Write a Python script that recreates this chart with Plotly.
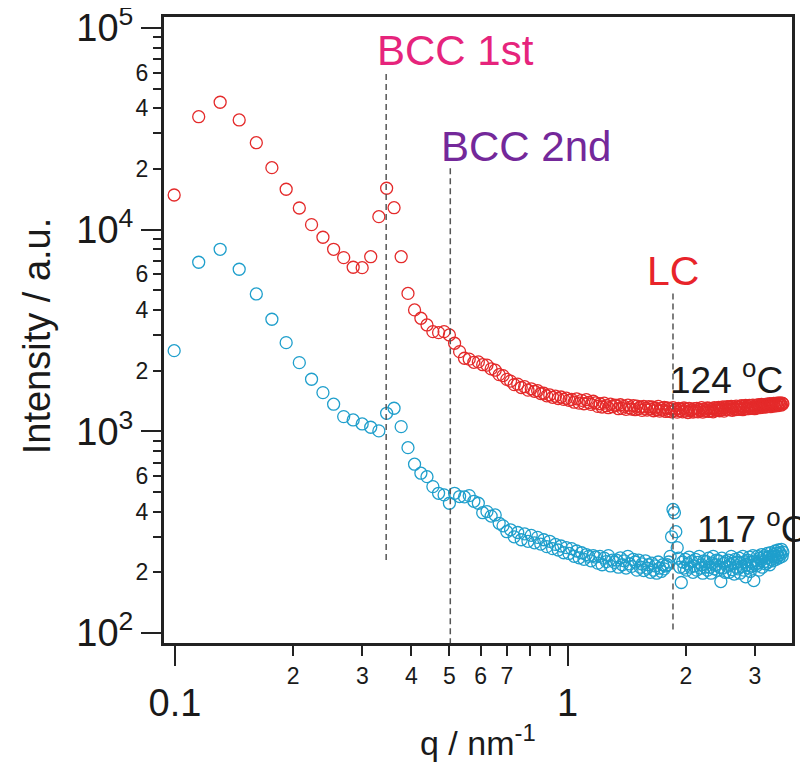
import math
import plotly.graph_objects as go

# ---------------- data ----------------
q = [
    0.0995, 0.1149, 0.1303, 0.1457, 0.1611, 0.1765, 0.1919, 0.2073, 0.2227, 0.2381,
    0.2535, 0.2689, 0.2843, 0.2997, 0.3151, 0.3305, 0.3459, 0.3613, 0.3767, 0.3921,
    0.4075, 0.4229, 0.4383, 0.4537, 0.4691, 0.4845, 0.4999, 0.5153, 0.5307, 0.5461,
    0.5615, 0.5769, 0.5923, 0.6077, 0.6231, 0.6385, 0.6539, 0.6693, 0.6847, 0.7001,
    0.7155, 0.7309, 0.7463, 0.7617, 0.7771, 0.7925, 0.8079, 0.8233, 0.8387, 0.8541,
    0.8695, 0.8849, 0.9003, 0.9157, 0.9311, 0.9465, 0.9619, 0.9773, 0.9927, 1.0081,
    1.0235, 1.0389, 1.0543, 1.0697, 1.0851, 1.1005, 1.1159, 1.1313, 1.1467, 1.1621,
    1.1775, 1.1929, 1.2083, 1.2237, 1.2391, 1.2545, 1.2699, 1.2853, 1.3007, 1.3161,
    1.3315, 1.3469, 1.3623, 1.3777, 1.3931, 1.4085, 1.4239, 1.4393, 1.4547, 1.4701,
    1.4855, 1.5009, 1.5163, 1.5317, 1.5471, 1.5625, 1.5779, 1.5933, 1.6087, 1.6241,
    1.6395, 1.6549, 1.6703, 1.6857, 1.7011, 1.7165, 1.7319, 1.7473, 1.7627, 1.7781,
    1.7935, 1.8089, 1.8243, 1.8397, 1.8551, 1.8705, 1.8859, 1.9013, 1.9167, 1.9321,
    1.9475, 1.9629, 1.9783, 1.9937, 2.0091, 2.0245, 2.0399, 2.0553, 2.0707, 2.0861,
    2.1015, 2.1169, 2.1323, 2.1477, 2.1631, 2.1785, 2.1939, 2.2093, 2.2247, 2.2401,
    2.2555, 2.2709, 2.2863, 2.3017, 2.3171, 2.3325, 2.3479, 2.3633, 2.3787, 2.3941,
    2.4095, 2.4249, 2.4403, 2.4557, 2.4711, 2.4865, 2.5019, 2.5173, 2.5327, 2.5481,
    2.5635, 2.5789, 2.5943, 2.6097, 2.6251, 2.6405, 2.6559, 2.6713, 2.6867, 2.7021,
    2.7175, 2.7329, 2.7483, 2.7637, 2.7791, 2.7945, 2.8099, 2.8253, 2.8407, 2.8561,
    2.8715, 2.8869, 2.9023, 2.9177, 2.9331, 2.9485, 2.9639, 2.9793, 2.9947, 3.0101,
    3.0255, 3.0409, 3.0563, 3.0717, 3.0871, 3.1025, 3.1179, 3.1333, 3.1487, 3.1641,
    3.1795, 3.1949, 3.2103, 3.2257, 3.2411, 3.2565, 3.2719, 3.2873, 3.3027, 3.3181,
    3.3335, 3.3489, 3.3643, 3.3797, 3.3951, 3.4105, 3.4259, 3.4413, 3.4567, 3.4721,
    3.4875, 3.5029, 3.5183, 3.5337,
]

intensity_124C = [
    14860, 36330, 42830, 35000, 27000, 20300, 15860, 12810, 10590, 9170,
    7990, 7265, 6510, 6480, 7346, 11600, 16050, 12850, 7346, 4830,
    4000, 3637, 3370, 3122, 3087, 3122, 3006, 2734, 2484, 2304,
    2280, 2200, 2210, 2140, 2130, 2040, 2010, 1910, 1890, 1810,
    1775, 1705, 1715, 1650, 1665, 1600, 1625, 1580, 1590, 1540,
    1545, 1500, 1515, 1475, 1495, 1455, 1480, 1440, 1460, 1425,
    1440, 1395, 1450, 1380, 1425, 1370, 1435, 1390, 1360, 1410,
    1385, 1330, 1370, 1320, 1380, 1340, 1310, 1365, 1325, 1350,
    1345, 1295, 1355, 1300, 1330, 1285, 1350, 1310, 1290, 1340,
    1280, 1335, 1295, 1320, 1270, 1330, 1300, 1275, 1325, 1290,
    1320, 1265, 1305, 1280, 1330, 1260, 1300, 1275, 1315, 1255,
    1305, 1260, 1295, 1250, 1310, 1270, 1290, 1245, 1300, 1265,
    1290, 1250, 1305, 1260, 1285, 1240, 1300, 1265, 1280, 1245,
    1295, 1255, 1300, 1250, 1285, 1265, 1310, 1245, 1290, 1260,
    1270, 1305, 1255, 1300, 1265, 1295, 1250, 1310, 1270, 1300,
    1275, 1315, 1265, 1305, 1280, 1320, 1260, 1310, 1285, 1325,
    1280, 1320, 1290, 1330, 1270, 1325, 1300, 1280, 1335, 1290,
    1315, 1285, 1335, 1295, 1340, 1280, 1325, 1300, 1345, 1295,
    1330, 1295, 1345, 1305, 1340, 1300, 1350, 1310, 1295, 1345,
    1305, 1350, 1320, 1355, 1310, 1340, 1360, 1315, 1350, 1330,
    1355, 1320, 1365, 1330, 1360, 1335, 1370, 1325, 1365, 1345,
    1350, 1375, 1335, 1370, 1355, 1380, 1340, 1375, 1360, 1385,
    1365, 1350, 1380, 1370,
]

intensity_117C = [
    2512, 6893, 7993, 6364, 4800, 3596, 2753, 2191, 1813, 1556,
    1363, 1183, 1139, 1088, 1048, 1005, 1229, 1302, 1055, 830,
    687, 620, 596, 532, 493, 484, 440, 493, 475, 473,
    480, 450, 440, 395, 400, 380, 385, 350, 340, 318,
    325, 300, 315, 290, 310, 285, 305, 280, 298, 276,
    290, 268, 285, 262, 275, 258, 270, 250, 265, 248,
    262, 240, 255, 236, 250, 232, 245, 240, 228, 242,
    238, 222, 240, 218, 235, 226, 242, 215, 230, 224,
    230, 212, 236, 218, 228, 210, 240, 220, 214, 232,
    225, 205, 230, 212, 220, 204, 228, 210, 218, 200,
    222, 205, 215, 198, 225, 210, 202, 218, 208, 215,
    218, 225, 240, 300, 410, 395, 318, 265, 235, 212,
    178, 225, 210, 232, 205, 220, 238, 212, 226, 200,
    215, 232, 205, 224, 240, 210, 218, 198, 228, 212,
    226, 205, 235, 212, 198, 222, 240, 208, 218, 230,
    205, 228, 212, 180, 235, 210, 222, 200, 226, 214,
    230, 200, 218, 240, 206, 222, 196, 232, 212, 225,
    208, 235, 198, 222, 214, 240, 205, 226, 190, 218,
    230, 210, 238, 202, 225, 215, 242, 182, 228, 220,
    215, 240, 222, 205, 235, 228, 245, 212, 238, 226,
    242, 220, 235, 248, 225, 238, 218, 250, 232, 240,
    228, 245, 238, 255, 232, 248, 240, 258, 236, 250,
    245, 260, 240, 252,
]

series_labels = ["124 <sup>o</sup>C", "117 <sup>o</sup>C"]

peak_names = ["BCC 1st", "BCC 2nd", "LC"]
peak_q = [0.345, 0.5025, 1.855]
peak_top = [60500, 20200, 4850]
peak_bottom = [230, 88, 104]

x_major_vals = [0.1, 1]
x_major_text = ["0.1", "1"]
x_minor_vals = [0.2, 0.3, 0.4, 0.5, 0.6, 0.7, 0.8, 0.9, 2, 3]
x_minor_text = ["2", "3", "4", "5", "6", "7", "", "", "2", "3"]

y_major_vals = [1e2, 1e3, 1e4, 1e5]
y_major_text = ["10<sup>2</sup>", "10<sup>3</sup>", "10<sup>4</sup>", "10<sup>5</sup>"]
y_decades = [1e2, 1e3, 1e4]
y_minor_digits = [2, 3, 4, 5, 6, 7, 8, 9]
y_labeled_digits = [2, 4, 6]

# ---------------- styles ----------------
FONT = "Liberation Sans, Arial, sans-serif"
RED = "#e42a2a"
BLUE = "#1f9fcc"
AXC = "#222222"
TXT = "#1a1a1a"
peak_colors = ["#e6247c", "#74289a", "#e8242a"]

X_RANGE = [-1.0306, 0.574]
Y_RANGE = [1.9455, 5.0595]

y_minor_vals = [d * m for d in y_decades for m in y_minor_digits]
y_minor_text = [str(m) if m in y_labeled_digits else "" for d in y_decades for m in y_minor_digits]

fig = go.Figure()

fig.add_trace(go.Scatter(
    x=q, y=intensity_117C, mode="markers",
    marker=dict(symbol="circle-open", size=12, color=BLUE, line=dict(width=1.3, color=BLUE)),
    showlegend=False, hoverinfo="skip"))
fig.add_trace(go.Scatter(
    x=q, y=intensity_124C, mode="markers",
    marker=dict(symbol="circle-open", size=12, color=RED, line=dict(width=1.3, color=RED)),
    showlegend=False, hoverinfo="skip"))

for name, pq, top, bot in zip(peak_names, peak_q, peak_top, peak_bottom):
    fig.add_trace(go.Scatter(
        x=[pq, pq], y=[bot, top], mode="lines",
        line=dict(color="#555555", width=1.5, dash="6px,4px"),
        showlegend=False, hoverinfo="skip"))

# invisible trace to carry the overlay axes (major tick labels)
fig.add_trace(go.Scatter(
    x=q, y=intensity_124C, mode="markers", xaxis="x2", yaxis="y2",
    marker=dict(opacity=0, size=1), showlegend=False, hoverinfo="skip"))

# plot frame (box around the plotting area) on a hidden unit-square overlay axis pair
fig.add_trace(go.Scatter(
    x=[0, 1, 1, 0, 0], y=[0, 0, 1, 1, 0], mode="lines", xaxis="x3", yaxis="y3",
    line=dict(color=AXC, width=2), cliponaxis=False,
    showlegend=False, hoverinfo="skip"))

annotations = []
for i, (name, pq, top) in enumerate(zip(peak_names, peak_q, peak_top)):
    centered = name == "LC"
    annotations.append(dict(
        x=math.log10(pq), y=math.log10(top), xref="x", yref="y",
        text=name, showarrow=False,
        xanchor="center" if centered else "left",
        xshift=0 if centered else -11,
        yanchor="middle", yshift=22,
        font=dict(family=FONT, size=41 if centered else 42, color=peak_colors[i])))

annotations.append(dict(
    x=math.log10(q[-1]), y=math.log10(intensity_124C[-1]), xref="x", yref="y",
    text=series_labels[0], showarrow=False, xanchor="right", xshift=2,
    yanchor="middle", yshift=26, font=dict(family=FONT, size=37, color=TXT)))
annotations.append(dict(
    x=math.log10(q[-1]), y=math.log10(intensity_117C[-1]), xref="x", yref="y",
    text=series_labels[1], showarrow=False, xanchor="right", xshift=26,
    yanchor="middle", yshift=26, font=dict(family=FONT, size=37, color=TXT)))

annotations.append(dict(
    x=0.5, y=-0.153, xref="paper", yref="paper", text="q / nm<sup>-1</sup>",
    showarrow=False, xanchor="center", yanchor="middle",
    font=dict(family=FONT, size=34, color=TXT)))
annotations.append(dict(
    x=-0.2, y=0.49, xref="paper", yref="paper", text="Intensity / a.u.",
    showarrow=False, xanchor="center", yanchor="middle", textangle=-90,
    font=dict(family=FONT, size=38, color=TXT)))

common_axis = dict(type="log", showgrid=False, zeroline=False, ticks="outside",
                   tickwidth=2, tickcolor=AXC, ticklabeloverflow="allow",
                   automargin=False, showline=True, linecolor=AXC, linewidth=2,
                   mirror=True, layer="above traces")

fig.update_layout(
    width=800, height=756,
    margin=dict(l=155, r=15, t=8, b=120),
    paper_bgcolor="white", plot_bgcolor="white",
    showlegend=False,
    annotations=annotations,
    xaxis=dict(**common_axis, range=X_RANGE, tickmode="array",
               tickvals=x_minor_vals, ticktext=x_minor_text, ticklen=10,
               tickfont=dict(family=FONT, size=23, color=TXT)),
    yaxis=dict(**common_axis, range=Y_RANGE, tickmode="array",
               tickvals=y_minor_vals, ticktext=y_minor_text, ticklen=8,
               tickfont=dict(family=FONT, size=23, color=TXT)),
    xaxis2=dict(**common_axis, range=X_RANGE, overlaying="x", anchor="y2", side="bottom",
                tickmode="array", tickvals=x_major_vals, ticktext=x_major_text,
                ticklen=20, tickfont=dict(family=FONT, size=38, color=TXT),
                ticklabelstandoff=4),
    yaxis2=dict(**common_axis, range=Y_RANGE, overlaying="y", anchor="x2", side="left",
                tickmode="array", tickvals=y_major_vals, ticktext=y_major_text,
                ticklen=20, tickfont=dict(family=FONT, size=38, color=TXT)),
    xaxis3=dict(range=[0, 1], overlaying="x", anchor="y3", visible=False,
                automargin=False, fixedrange=True),
    yaxis3=dict(range=[0, 1], overlaying="y", anchor="x3", visible=False,
                automargin=False, fixedrange=True),
)

fig.write_html("out.html")
